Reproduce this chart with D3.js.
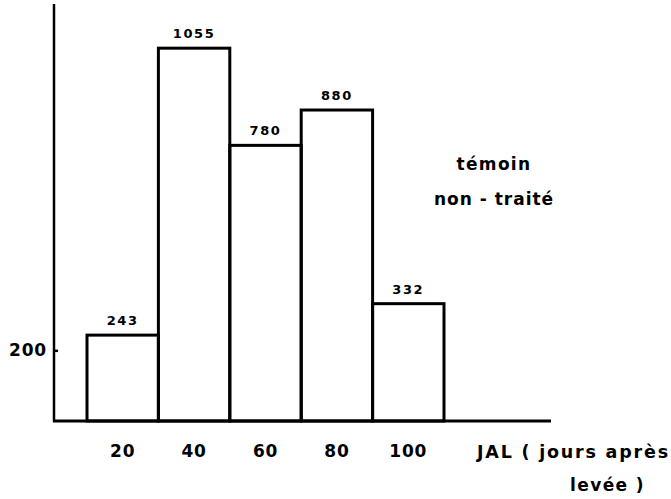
<!DOCTYPE html>
<html>
<head>
<meta charset="utf-8">
<script src="https://cdn.jsdelivr.net/npm/d3@7"></script>
<style>
  html, body { margin: 0; padding: 0; background: #fff; }
  svg { display: block; }
  text { font-family: "DejaVu Sans", sans-serif; font-weight: bold; fill: #000; }
</style>
</head>
<body>
<svg id="chart" width="671" height="499"></svg>
<script>
// Data
const categories = [20, 40, 60, 80, 100];
const values = [243, 1055, 780, 880, 332];
const yTickValues = [200];
const xAxisTitleLines = ["JAL ( jours après", "levée )"];
const annotationLines = ["témoin", "non - traité"];

const svg = d3.select("#chart");
const axisX = 54, axisY = 421;

const x = d3.scaleBand().domain(categories).range([87, 444]).padding(0);
const y = d3.scaleLinear().domain([0, 1180]).range([axisY, 4]);

// Bars
svg.append("g").selectAll("rect")
  .data(categories.map((c, i) => ({ c, v: values[i] })))
  .join("rect")
  .attr("x", d => x(d.c))
  .attr("y", d => y(d.v))
  .attr("width", x.bandwidth())
  .attr("height", d => y(0) - y(d.v))
  .attr("fill", "none")
  .attr("stroke", "#000")
  .attr("stroke-width", 3);

// Value labels
svg.append("g").selectAll("text")
  .data(categories.map((c, i) => ({ c, v: values[i] })))
  .join("text")
  .attr("x", d => x(d.c) + x.bandwidth() / 2)
  .attr("y", d => y(d.v) - 10)
  .attr("text-anchor", "middle")
  .attr("font-size", 13)
  .attr("letter-spacing", 1.6)
  .text(d => d.v);

// Y axis
const yAxis = svg.append("g")
  .attr("transform", `translate(${axisX},0)`)
  .call(d3.axisLeft(y).tickValues(yTickValues).tickSize(-4).tickPadding(10));
yAxis.select(".domain").remove();
yAxis.selectAll(".tick line").attr("stroke", "#000").attr("stroke-width", 2.5);
yAxis.selectAll(".tick text")
  .attr("font-size", 17).attr("font-family", "DejaVu Sans").attr("font-weight", "bold")
  .attr("letter-spacing", 0.8).attr("x", -7);
svg.append("line")
  .attr("x1", axisX).attr("x2", axisX)
  .attr("y1", y.range()[1]).attr("y2", axisY + 1)
  .attr("stroke", "#000").attr("stroke-width", 2.5);

// X axis
const xAxis = svg.append("g")
  .attr("transform", `translate(0,${axisY})`)
  .call(d3.axisBottom(x).tickSize(0).tickPadding(24));
xAxis.select(".domain").remove();
xAxis.selectAll(".tick text")
  .attr("font-size", 17).attr("font-family", "DejaVu Sans").attr("font-weight", "bold")
  .attr("letter-spacing", 0.8);
svg.append("line")
  .attr("x1", axisX - 1).attr("x2", 551)
  .attr("y1", axisY).attr("y2", axisY)
  .attr("stroke", "#000").attr("stroke-width", 3);

// X axis title
svg.append("text").attr("x", 477).attr("y", 458)
  .attr("font-size", 17.5).attr("letter-spacing", 1.8)
  .text(xAxisTitleLines[0]);
svg.append("text").attr("x", 570).attr("y", 491)
  .attr("font-size", 17).attr("letter-spacing", 1.4)
  .text(xAxisTitleLines[1]);

// Annotation
svg.append("text").attr("x", 494).attr("y", 170)
  .attr("text-anchor", "middle")
  .attr("font-size", 17).attr("letter-spacing", 1.3)
  .text(annotationLines[0]);
svg.append("text").attr("x", 494).attr("y", 205)
  .attr("text-anchor", "middle")
  .attr("font-size", 17).attr("letter-spacing", 1.0)
  .text(annotationLines[1]);
</script>
</body>
</html>
